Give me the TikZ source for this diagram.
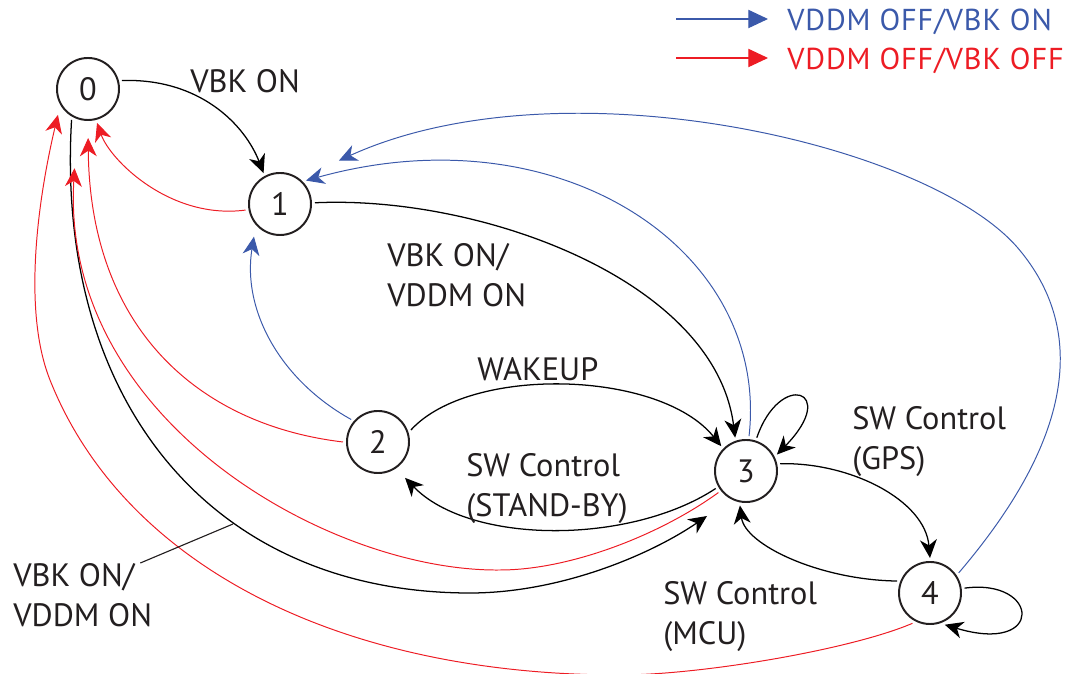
\documentclass[tikz,border=0pt]{standalone}
\usepackage{fontspec}
\setmainfont{PT Sans}
\newfontfamily\legfont[LetterSpace=3]{PT Sans}
\usepackage{xcolor}
\usetikzlibrary{arrows.meta, positioning}

\definecolor{TextBlack}{HTML}{231F20}
\definecolor{EdgeBlue}{HTML}{3B59AA}
\definecolor{EdgeRed}{HTML}{ED1C24}

\tikzset{
  statenode/.style={circle, draw=TextBlack, line width=1.4pt, minimum size=1.55cm,
    inner sep=0pt, outer sep=0.1cm, text=TextBlack, font=\fontsize{23}{28.5}\selectfont},
  lbl/.style={inner sep=0pt, align=left, anchor=north west, text=TextBlack,
    font=\fontsize{23}{28.5}\selectfont},
  legtext/.style={inner sep=0pt, anchor=base west, font=\legfont\fontsize{21.5}{25}\selectfont},
  arrowtip/.style={-{Stealth[length=13pt, width=12pt, inset=4pt]}},
  blk/.style={arrowtip, black, line width=0.9pt},
  blu/.style={arrowtip, EdgeBlue, line width=0.7pt},
  rd/.style={arrowtip, EdgeRed, line width=0.7pt},
  legarrow/.style={-{Triangle[length=14pt, width=13pt]}, line width=0.8pt}
}

\begin{document}
\begin{tikzpicture}[x=0.025cm, y=-0.025cm]
    \useasboundingbox (0,0) rectangle (1088,674);

    % === States ===
    \node[statenode] (n0) at (88,89) {0};
    \node[statenode] (n1) at (280,204) {1};
    \node[statenode] (n2) at (378,442) {2};
    \node[statenode] (n3) at (746,471) {3};
    \node[statenode] (n4) at (930,593) {4};

    % === Black transitions ===
    \draw[blk] (n0.14) .. controls (200,78) and (245,125) .. (n1.118);
    \draw[blk] (n1.2) .. controls (480,195) and (715,280) .. (n3.108);
    \draw[blk] (n2.20) .. controls (470,365) and (660,370) .. (n3.135);
    \draw[blk, shorten >=0.25cm] (n3.210) .. controls (630,545) and (470,545) .. (n2.-55);
    \draw[blk] (n3.72) .. controls (780,370) and (840,390) .. (n3.28); % self loop
    \draw[blk] (n3.12) .. controls (850,462) and (925,500) .. (n4.90);
    \draw[blk] (n4.160) .. controls (820,580) and (745,545) .. (n3.-100);
    \draw[blk] (n4.8) .. controls (1040,578) and (1045,655) .. (n4.-65); % self loop
    % 0 -> 3, long way round
    \draw[blk, shorten >=0.65cm] (n0.-118)
        .. controls (55,400) and (210,593) .. (470,593)
        .. controls (560,593) and (650,555) .. (n3.-120);

    % === Blue transitions ===
    \draw[blu] (n3.85) .. controls (770,250) and (560,110) .. (n1.42);
    \draw[blu, shorten >=0.2cm] (n2.140) .. controls (280,380) and (242,310) .. (n1.-135);
    \draw[blu, shorten >=1cm] (n4.35)
        .. controls (1085,425) and (1080,320) .. (1017,247)
        .. controls (925,142) and (560,60) .. (n1.50);

    % === Red transitions ===
    \draw[rd] (n1.190) .. controls (170,220) and (110,160) .. (n0.-75);
    \draw[rd, shorten >=0.35cm] (n2.180) .. controls (200,425) and (90,330) .. (n0.-90);
    \draw[rd, shorten >=1.15cm] (n3.218)
        .. controls (660,535) and (570,570) .. (500,570)
        .. controls (330,572) and (60,420) .. (n0.-108);
    \draw[rd, shorten >=0.15cm] (n4.-120)
        .. controls (850,650) and (700,675) .. (620,675)
        .. controls (340,675) and (124,566) .. (50,380)
        .. controls (20.4,305.6) and (40.9,186.6) .. (n0.-145);

    % === Labels ===
    \node[lbl] (lvbk) at (190,69) {VBK ON};
    \node[lbl] (lvddm) at (387,243) {VBK ON/\\VDDM ON};
    \node[lbl] (lwake) at (477,357) {WAKEUP};
    \node[lbl] (lstby) at (466,453) {SW Control\\(STAND-BY)};
    \node[lbl] (lgps) at (852,406) {SW Control\\(GPS)};
    \node[lbl] (lmcu) at (663,581) {SW Control\\(MCU)};
    \node[lbl] (lboth) at (13,563) {VBK ON/\\VDDM ON};
    \coordinate (ptr) at (233,524);
    \draw[TextBlack, line width=0.8pt] ([xshift=-0.3cm]lboth.north east) -- (ptr);

    % === Legend ===
    \coordinate (lgb1) at (676,19);
    \coordinate (lgb2) at (768,19);
    \coordinate (lgr1) at (676,58);
    \coordinate (lgr2) at (768,58);
    \draw[legarrow, EdgeBlue] (lgb1) -- (lgb2);
    \draw[legarrow, EdgeRed] (lgr1) -- (lgr2);
    \node[legtext, EdgeBlue] (lgbtxt) at (787,31) {VDDM OFF/VBK ON};
    \node[legtext, EdgeRed] (lgrtxt) at (787,70) {VDDM OFF/VBK OFF};
\end{tikzpicture}
\end{document}
